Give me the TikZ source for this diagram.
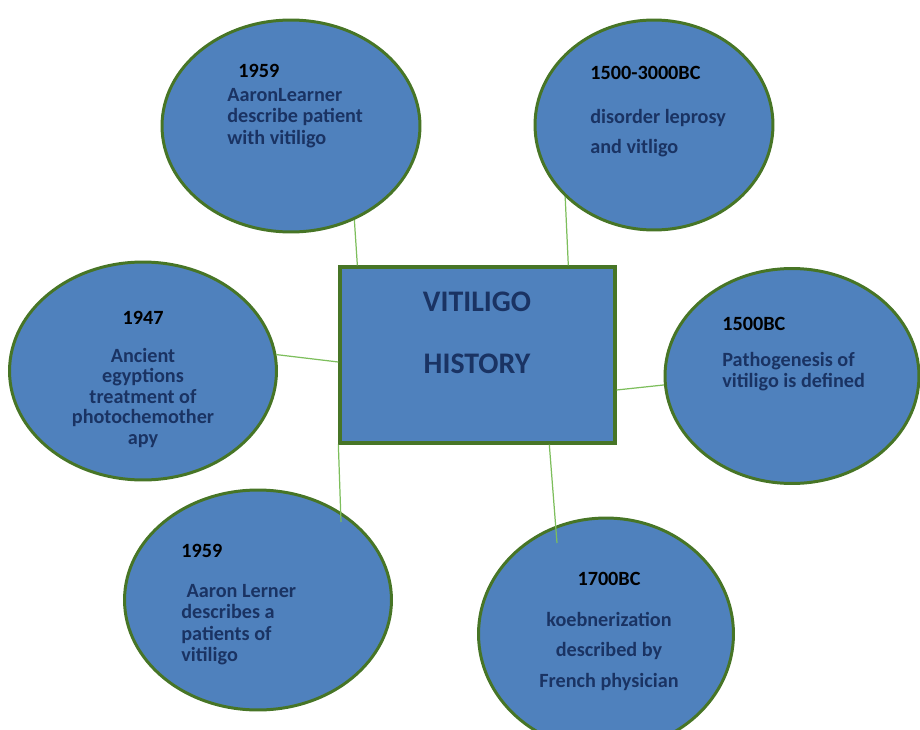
\documentclass[tikz,border=0pt]{standalone}
\usepackage{fontspec}
\setmainfont{Carlito}
\usetikzlibrary{shapes.geometric}

\definecolor{bubblefill}{HTML}{4F81BD}
\definecolor{bubbleedge}{HTML}{477526}
\definecolor{linkgreen}{HTML}{7DBE5C}
\definecolor{notenavy}{HTML}{1A3363}

\tikzset{
  bubble/.style={ellipse, draw=bubbleedge, fill=bubblefill, line width=1.7pt, inner sep=0pt},
  hub/.style={rectangle, draw=bubbleedge, fill=bubblefill, line width=1.9pt, inner sep=0pt,
    minimum width=5.5cm, minimum height=3.52cm},
  link/.style={draw=linkgreen, line width=0.7pt},
  year/.style={inner sep=0pt, font=\bfseries\fontsize{11.5}{12.5}\selectfont, text=black},
  note/.style={inner sep=0pt, font=\bfseries\fontsize{11.5}{12.2}\selectfont, text=notenavy, align=left},
  widenote/.style={note, font=\bfseries\fontsize{11.5}{17.2}\selectfont},
}

\begin{document}
\begin{tikzpicture}[x=0.02cm, y=-0.02cm]
\useasboundingbox (0,0) rectangle (920,730);
\clip (0,0) rectangle (920,730);

\node[bubble, minimum width=5.16cm, minimum height=4.24cm] (aaron) at (291,126) {};
\node[bubble, minimum width=4.76cm, minimum height=4.2cm] (leprosy) at (654,125) {};
\node[bubble, minimum width=5.34cm, minimum height=4.36cm] (egypt) at (143,371) {};
\node[bubble, minimum width=5.08cm, minimum height=4.3cm] (patho) at (792,376) {};
\node[bubble, minimum width=5.34cm, minimum height=4.4cm] (lerner) at (258,600) {};
\node[bubble, minimum width=5.1cm, minimum height=4.64cm] (koeb) at (606,634) {};

\node[hub] (hist) at (477.5,355) {};
\node[inner sep=0pt, align=center, text=notenavy, font=\bfseries\fontsize{17}{35}\selectfont] (title) at (477,333) {VITILIGO\\HISTORY};

\draw[link] (aaron.-56) -- ([xshift=0.38cm]hist.north west);
\draw[link] (leprosy.219) -- ([xshift=4.6cm]hist.north west);
\draw[link] (egypt.7) -- ([yshift=-0.14cm]hist.west);
\draw[link] (patho.184) -- ([yshift=-0.7cm]hist.east);
\coordinate (lernerend) at (341,522);
\draw[link] (hist.south west) -- (lernerend);
\coordinate (koebend) at (557,543);
\draw[link] ([xshift=4.22cm]hist.south west) -- (koebend);

\node[year, anchor=base west] (aaronyear) at (238,77) {1959};
\node[note, anchor=north west] (aaronnote) at (227,88) {AaronLearner\\describe patient\\with vitiligo};

\node[year, anchor=base west] (leprosyyear) at (590,79) {1500-3000BC};
\node[widenote, anchor=north west] (leprosynote) at (590,109) {disorder leprosy\\and vitligo};

\node[year, anchor=base] (egyptyear) at (143,324) {1947};
\node[note, align=center, anchor=north, font=\bfseries\fontsize{11.5}{11.6}\selectfont] (egyptnote) at (143,348) {Ancient\\egyptions\\treatment of\\photochemother\\apy};

\node[year, anchor=base west] (pathoyear) at (722,330) {1500BC};
\node[note, anchor=north west] (pathonote) at (722,352) {Pathogenesis of\\vitiligo is defined};

\node[year, anchor=base west] (lerneryear) at (181,557) {1959};
\node[note, anchor=north west] (lernernote) at (181,584) {\hspace{3pt}Aaron Lerner\\describes a\\patients of\\vitiligo};

\node[year, anchor=base] (koebyear) at (609,585) {1700BC};
\node[widenote, align=center, anchor=north] (koebnote) at (609,612) {koebnerization\\described by\\French physician};

\end{tikzpicture}
\end{document}
